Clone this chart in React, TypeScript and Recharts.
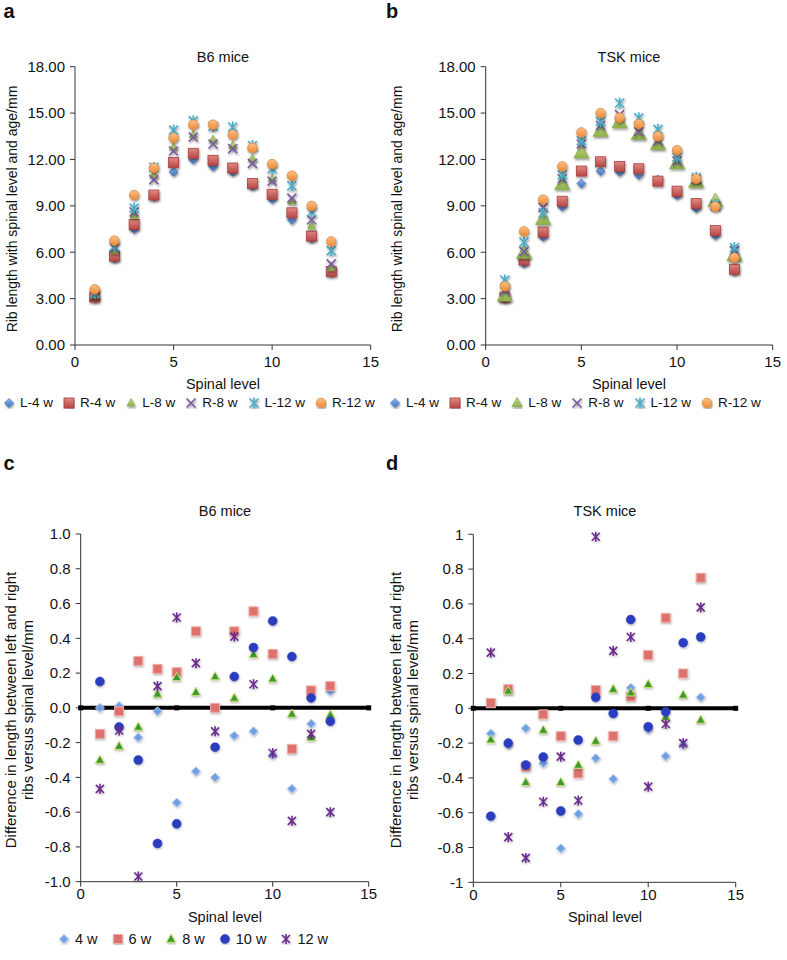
import React from 'react';
import { ScatterChart, Scatter, XAxis, YAxis } from 'recharts';

// spinal levels 1..13
const LEVELS = [1, 2, 3, 4, 5, 6, 7, 8, 9, 10, 11, 12, 13];
const X_TICKS = [0, 5, 10, 15];
const LEN_TICKS = [0, 3, 6, 9, 12, 15, 18];
const DIFF_TICKS = [-1, -0.8, -0.6, -0.4, -0.2, 0, 0.2, 0.4, 0.6, 0.8, 1];

// a: B6 rib length (mm)
const B6_L4 = [3.05, 5.6, 7.5, 9.6, 11.2, 12.0, 11.55, 11.2, 10.3, 9.45, 8.1, 6.9, 4.7];
const B6_R4 = [3.1, 5.75, 7.8, 9.7, 11.8, 12.4, 11.95, 11.45, 10.45, 9.75, 8.55, 7.05, 4.75];
const B6_L8 = [3.2, 6.1, 8.4, 11.0, 12.8, 13.6, 13.3, 12.9, 12.05, 10.75, 9.3, 7.7, 5.0];
const B6_R8 = [3.3, 6.3, 8.6, 10.7, 12.55, 13.45, 13.0, 12.7, 11.75, 10.6, 9.5, 8.1, 5.25];
const B6_L12 = [3.35, 6.4, 8.85, 11.5, 13.9, 14.5, 14.15, 14.1, 12.9, 11.4, 10.3, 8.6, 6.1];
const B6_R12 = [3.6, 6.75, 9.7, 11.45, 13.4, 14.25, 14.25, 13.6, 12.75, 11.7, 10.95, 9.0, 6.7];

// b: TSK rib length (mm)
const TSK_L4 = [3.0, 5.3, 7.0, 8.95, 10.45, 11.25, 11.2, 11.0, 10.7, 9.7, 8.85, 7.1, 4.8];
const TSK_R4 = [3.1, 5.5, 7.3, 9.3, 11.25, 11.85, 11.55, 11.4, 10.6, 9.95, 9.15, 7.4, 4.9];
const TSK_L8 = [3.2, 5.95, 8.15, 10.4, 12.45, 13.85, 14.4, 13.65, 13.0, 11.75, 10.55, 9.3, 5.8];
const TSK_R8 = [3.5, 6.05, 8.9, 10.75, 13.0, 14.2, 14.9, 13.8, 13.2, 11.9, 10.7, 9.0, 6.1];
const TSK_L12 = [4.2, 6.65, 8.55, 11.0, 13.2, 14.45, 15.65, 14.7, 13.95, 12.15, 10.85, 9.1, 6.3];
const TSK_R12 = [3.8, 7.35, 9.4, 11.55, 13.75, 15.0, 14.7, 14.3, 13.5, 12.6, 10.75, 8.95, 5.65];

// c: B6 left - right difference (mm)
const B6_D4 = [0.0, 0.01, -0.17, -0.02, -0.545, -0.365, -0.4, -0.16, -0.135, -0.27, -0.466, -0.092, 0.095];
const B6_D6 = [-0.15, -0.02, 0.27, 0.224, 0.205, 0.44, 0.0, 0.44, 0.555, 0.31, -0.236, 0.1, 0.125];
const B6_D8 = [-0.3, -0.22, -0.11, 0.08, 0.176, 0.09, 0.18, 0.057, 0.307, 0.167, -0.035, -0.17, -0.04];
const B6_D10 = [0.151, -0.11, -0.3, -0.78, -0.667, null, -0.226, 0.18, 0.347, 0.5, 0.295, 0.057, -0.077];
const B6_D12 = [-0.466, -0.13, -0.97, 0.125, 0.52, 0.257, -0.135, 0.41, 0.136, -0.26, -0.65, -0.15, -0.6];

// d: TSK left - right difference (mm)
const TSK_D4 = [-0.145, -0.21, -0.115, -0.316, -0.805, -0.607, -0.287, -0.406, 0.118, -0.12, -0.275, -0.21, 0.063];
const TSK_D6 = [0.03, 0.11, -0.335, -0.035, -0.16, -0.374, 0.105, -0.16, 0.067, 0.306, 0.52, 0.2, 0.75];
const TSK_D8 = [-0.18, 0.1, -0.425, -0.125, -0.425, -0.326, -0.188, 0.11, 0.09, 0.138, -0.05, 0.077, -0.067];
const TSK_D10 = [-0.62, -0.2, -0.326, -0.28, -0.59, -0.182, 0.063, -0.03, 0.51, -0.106, -0.02, 0.377, 0.41];
const TSK_D12 = [0.32, -0.74, -0.86, -0.537, -0.278, -0.53, 0.986, 0.33, 0.41, -0.45, -0.09, -0.2, 0.58];

const ZERO_X = [0, 5, 10, 15];

const FONT = '"Liberation Sans", Arial, Helvetica, sans-serif';

type Kind = 'diamond' | 'square' | 'triangle' | 'circle' | 'x' | 'asterisk' | 'block';
type Sty = { kind: Kind; s: number; fill: string; stroke: string; sw?: number; filter?: string };

const toRows = (vals: (number | null)[]) =>
  LEVELS.map((x, i) => ({ x, y: vals[i] })).filter((r) => r.y !== null);

function Marker({ st, cx, cy }: { st: Sty; cx: number; cy: number }) {
  const h = st.s / 2;
  const f = st.filter ? `url(#${st.filter})` : undefined;
  const sw = st.sw ?? 1;
  switch (st.kind) {
    case 'diamond':
      return <path d={`M${cx},${cy - h}L${cx + h},${cy}L${cx},${cy + h}L${cx - h},${cy}Z`} fill={st.fill} stroke={st.stroke} strokeWidth={sw} filter={f} />;
    case 'square':
      return <rect x={cx - h} y={cy - h} width={st.s} height={st.s} fill={st.fill} stroke={st.stroke} strokeWidth={sw} filter={f} />;
    case 'block':
      return <rect x={cx - h} y={cy - h} width={st.s} height={st.s} fill={st.fill} />;
    case 'triangle': {
      const th = st.s * 0.9;
      return <path d={`M${cx},${cy - th * 0.6}L${cx + h},${cy + th * 0.4}L${cx - h},${cy + th * 0.4}Z`} fill={st.fill} stroke={st.stroke} strokeWidth={sw} filter={f} />;
    }
    case 'circle':
      return <circle cx={cx} cy={cy} r={h} fill={st.fill} stroke={st.stroke} strokeWidth={sw} filter={f} />;
    case 'x':
      return (
        <g stroke={st.fill} strokeWidth={sw} filter={f}>
          <line x1={cx - h} y1={cy - h} x2={cx + h} y2={cy + h} />
          <line x1={cx - h} y1={cy + h} x2={cx + h} y2={cy - h} />
        </g>
      );
    case 'asterisk':
    default:
      return (
        <g stroke={st.fill} strokeWidth={sw} filter={f}>
          <line x1={cx - h} y1={cy - h} x2={cx + h} y2={cy + h} />
          <line x1={cx - h} y1={cy + h} x2={cx + h} y2={cy - h} />
          <line x1={cx} y1={cy - h - 1} x2={cx} y2={cy + h + 1} />
        </g>
      );
  }
}

const shapeOf = (st: Sty) => (p: any) => <Marker st={st} cx={p.cx} cy={p.cy} />;

// excel-like styles for a / b
const stA = (triSize: number): Sty[] => [
  { kind: 'diamond', s: 9, fill: 'url(#gBlue)', stroke: '#4a7cc0', sw: 0.8, filter: 'sh' },
  { kind: 'square', s: 10, fill: 'url(#gRed)', stroke: '#a8403d', sw: 0.8, filter: 'sh' },
  { kind: 'triangle', s: triSize, fill: 'url(#gGreen)', stroke: '#8aab4c', sw: 0.8, filter: 'sh' },
  { kind: 'x', s: 9, fill: '#7a5a9e', stroke: '#7a5a9e', sw: 1.6, filter: 'sh' },
  { kind: 'asterisk', s: 9, fill: '#4bacc6', stroke: '#4bacc6', sw: 1.6, filter: 'sh' },
  { kind: 'circle', s: 9.5, fill: 'url(#gOrange)', stroke: '#e08a3e', sw: 0.8, filter: 'sh' },
];
const ST_A = stA(8);
const ST_B = stA(15);

// flat styles for c / d
const ST_C: Sty[] = [
  { kind: 'diamond', s: 9, fill: '#6f9fe2', stroke: '#b3cdf0', sw: 1, filter: 'sh2' },
  { kind: 'square', s: 9, fill: '#dd716c', stroke: '#f0aca8', sw: 1, filter: 'sh2' },
  { kind: 'triangle', s: 9, fill: '#3b9833', stroke: '#c9df6c', sw: 1, filter: 'sh2' },
  { kind: 'circle', s: 9, fill: '#2b3cbf', stroke: '#2b3cbf', sw: 0.5, filter: 'sh2' },
  { kind: 'asterisk', s: 8, fill: '#6a2b8d', stroke: '#6a2b8d', sw: 1.6, filter: 'sh2' },
];
const ZERO_ST: Sty = { kind: 'block', s: 5, fill: '#000', stroke: '#000' };

const LEG_A = ['L-4 w', 'R-4 w', 'L-8 w', 'R-8 w', 'L-12 w', 'R-12 w'];
const LEG_C = ['4 w', '6 w', '8 w', '10 w', '12 w'];

const axisStyle = {
  tick: { fontSize: 15, fill: '#111', fontFamily: FONT },
  axisLine: { stroke: '#333' },
  tickLine: { stroke: '#333' },
  tickSize: 5,
};

type PanelProps = {
  left: number; top: number; width: number; height: number;
  mt: number; mr: number; yw: number; xh: number;
  kind: 'len' | 'diff'; series: (number | null)[][]; styles: Sty[]; diffFmt?: (v: number) => string;
};

function Panel(p: PanelProps) {
  const isLen = p.kind === 'len';
  return (
    <div style={{ position: 'absolute', left: p.left, top: p.top }}>
      <ScatterChart width={p.width} height={p.height} margin={{ top: p.mt, right: p.mr, bottom: 0, left: 0 }}>
        <XAxis type="number" dataKey="x" domain={[0, 15]} ticks={X_TICKS} interval={0} height={p.xh}
          tickMargin={isLen ? 6 : 2} {...axisStyle} />
        <YAxis type="number" dataKey="y" width={p.yw} interval={0}
          domain={isLen ? [0, 18] : [-1, 1]} ticks={isLen ? LEN_TICKS : DIFF_TICKS}
          tickFormatter={isLen ? (v: number) => v.toFixed(2) : p.diffFmt} tickMargin={5} {...axisStyle} />
        {!isLen && (
          <Scatter data={ZERO_X.map((x) => ({ x, y: 0 }))} line={{ stroke: '#000', strokeWidth: 4 }}
            shape={shapeOf(ZERO_ST)} isAnimationActive={false} />
        )}
        {p.series.map((vals, i) => (
          <Scatter key={i} data={toRows(vals)} shape={shapeOf(p.styles[i])} isAnimationActive={false} />
        ))}
      </ScatterChart>
    </div>
  );
}

function Txt({ x, y, children, size = 14.5, rot = false, bold = false }: any) {
  return (
    <div style={{
      position: 'absolute', left: x, top: y, transform: `translate(-50%,-50%)${rot ? ' rotate(-90deg)' : ''}`,
      fontFamily: FONT, fontSize: size, fontWeight: bold ? 700 : 400, whiteSpace: 'nowrap', color: '#111', lineHeight: 1,
    }}>{children}</div>
  );
}

function LegendRow({ x, y, labels, styles, gap, size }: { x: number; y: number; labels: string[]; styles: Sty[]; gap: number; size: number }) {
  return (
    <div style={{ position: 'absolute', left: x, top: y, display: 'flex', alignItems: 'center', gap, fontFamily: FONT, fontSize: size, color: '#111', whiteSpace: 'nowrap' }}>
      {labels.map((l, i) => {
        const st = { ...styles[i], s: Math.min(styles[i].s, 10) };
        return (
          <span key={l} style={{ display: 'flex', alignItems: 'center', gap: 5 }}>
            <svg width={12} height={12}><Marker st={st} cx={6} cy={6} /></svg>
            {l}
          </span>
        );
      })}
    </div>
  );
}

export default function App() {
  return (
    <div style={{ position: 'relative', width: 787, height: 960, background: '#fff', overflow: 'hidden' }}>
      <style>{'body{margin:0}'}</style>
      <svg width={0} height={0} style={{ position: 'absolute' }}>
        <defs>
          <linearGradient id="gBlue" x1="0" y1="0" x2="0" y2="1">
            <stop offset="0" stopColor="#8fb4ea" /><stop offset="1" stopColor="#3f72c0" />
          </linearGradient>
          <linearGradient id="gRed" x1="0" y1="0" x2="0" y2="1">
            <stop offset="0" stopColor="#e08985" /><stop offset="1" stopColor="#b84642" />
          </linearGradient>
          <linearGradient id="gGreen" x1="0" y1="0" x2="0" y2="1">
            <stop offset="0" stopColor="#c6dc8c" /><stop offset="1" stopColor="#8eb04a" />
          </linearGradient>
          <linearGradient id="gOrange" x1="0" y1="0" x2="0" y2="1">
            <stop offset="0" stopColor="#fbc08a" /><stop offset="1" stopColor="#ee8a36" />
          </linearGradient>
          <filter id="sh" x="-60%" y="-60%" width="220%" height="220%">
            <feDropShadow dx="0.8" dy="1.6" stdDeviation="1.1" floodColor="#000" floodOpacity="0.45" />
          </filter>
          <filter id="sh2" x="-60%" y="-60%" width="220%" height="220%">
            <feDropShadow dx="0.5" dy="1.2" stdDeviation="1.2" floodColor="#000" floodOpacity="0.3" />
          </filter>
        </defs>
      </svg>

      <Panel left={0} top={0} width={385} height={372} mt={66.7} mr={14.3} yw={75} xh={27}
        kind="len" series={[B6_L4, B6_R4, B6_L8, B6_R8, B6_L12, B6_R12]} styles={ST_A} />
      <Panel left={395} top={0} width={392} height={372} mt={66.7} mr={14.3} yw={90.7} xh={27}
        kind="len" series={[TSK_L4, TSK_R4, TSK_L8, TSK_R8, TSK_L12, TSK_R12]} styles={ST_B} />
      <Panel left={0} top={450} width={385} height={460} mt={84} mr={16.3} yw={80.7} xh={28.3}
        kind="diff" series={[B6_D4, B6_D6, B6_D8, B6_D10, B6_D12]} styles={ST_C} diffFmt={(v: number) => v.toFixed(1)} />
      <Panel left={395} top={450} width={392} height={460} mt={84.3} mr={51.3} yw={78.3} xh={27.7}
        kind="diff" series={[TSK_D4, TSK_D6, TSK_D8, TSK_D10, TSK_D12]} styles={ST_C} diffFmt={(v: number) => String(v)} />

      <Txt x={9} y={11} size={20} bold>a</Txt>
      <Txt x={392} y={11} size={20} bold>b</Txt>
      <Txt x={9} y={463} size={20} bold>c</Txt>
      <Txt x={392} y={463} size={20} bold>d</Txt>

      <Txt x={223} y={57}>B6 mice</Txt>
      <Txt x={629} y={57}>TSK mice</Txt>
      <Txt x={225} y={511}>B6 mice</Txt>
      <Txt x={605} y={511}>TSK mice</Txt>

      <Txt x={12} y={209} size={14} rot>Rib length with spinal level and age/mm</Txt>
      <Txt x={397} y={209} size={14} rot>Rib length with spinal level and age/mm</Txt>
      <Txt x={10} y={710} size={15} rot>Difference in length between left and right</Txt>
      <Txt x={27} y={710} size={15} rot>ribs versus spinal level/mm</Txt>
      <Txt x={395} y={710} size={15} rot>Difference in length between left and right</Txt>
      <Txt x={412} y={710} size={15} rot>ribs versus spinal level/mm</Txt>

      <Txt x={223} y={384}>Spinal level</Txt>
      <Txt x={629} y={384}>Spinal level</Txt>
      <Txt x={225} y={917}>Spinal level</Txt>
      <Txt x={605} y={917}>Spinal level</Txt>

      <LegendRow x={3} y={395} labels={LEG_A} styles={ST_A} gap={10} size={13.5} />
      <LegendRow x={389} y={395} labels={LEG_A} styles={ST_B} gap={10} size={13.5} />
      <LegendRow x={58} y={931} labels={LEG_C} styles={ST_C} gap={14} size={14.5} />
    </div>
  );
}
